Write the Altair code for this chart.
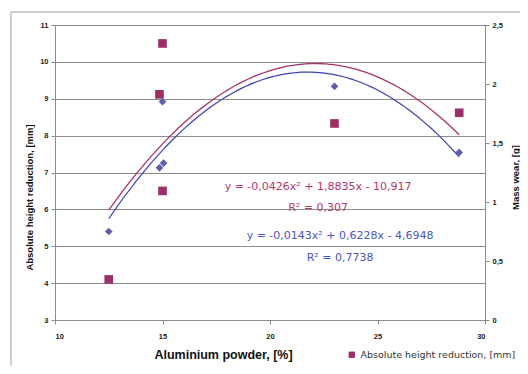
import altair as alt
import pandas as pd

# ---- data ----
al_height = [12.5, 15.0, 14.86, 15.0, 23.0, 28.8]
height_mm = [4.1, 10.5, 9.12, 6.5, 8.33, 8.62]
al_wear = [12.5, 15.0, 15.05, 14.86, 23.0, 28.8]
wear_g = [0.75, 1.85, 1.33, 1.29, 1.98, 1.42]
series_names = ["Absolute height reduction, [mm]", "Mass wear, [g]"]
x_ticks = [10, 15, 20, 25, 30]
left_ticks = [3, 4, 5, 6, 7, 8, 9, 10, 11]
right_ticks = [0, 0.5, 1, 1.5, 2, 2.5]
eq_red = ["y = -0,0426x² + 1,8835x - 10,917", "R² = 0,307"]
eq_blue = ["y = -0,0143x² + 0,6228x - 4,6948", "R² = 0,7738"]

RED = "#9B2F66"
RED_LINE = "#A8336A"
BLUE = "#5F5FA8"
BLUE_LINE = "#3A3FB4"
GRID = "#8C8C8C"
FONT = "Liberation Sans"

df_h = pd.DataFrame({"al": al_height, "val": height_mm, "series": series_names[0]})
df_w = pd.DataFrame({"al": al_wear, "val": wear_g, "series": series_names[1]})
dummy = pd.DataFrame({"d": [0]})

x_enc = alt.X(
    "al:Q",
    scale=alt.Scale(domain=[10, 30], nice=False, zero=False),
    axis=alt.Axis(
        values=x_ticks, title="Aluminium powder, [%]", grid=False,
        titleX=168, titleY=34, titleAlign="center", titleBaseline="middle",
        titleFontSize=12.5, titleFontWeight="bold", titleFont=FONT,
        labelFontSize=7.5, labelFontWeight="bold", labelFont=FONT, labelPadding=8,
    ),
)

left_axis = alt.Axis(
    values=left_ticks, title=series_names[0], grid=True, gridColor=GRID,
    titleX=-26, titleY=172, titleAlign="center", titleBaseline="middle",
    titleFontSize=9.5, titleFontWeight="bold",
    titleFont=FONT, labelFontSize=7.5, labelFontWeight="bold", labelFont=FONT,
    labelPadding=3,
)
right_axis = alt.Axis(
    orient="right", values=right_ticks, title=series_names[1], grid=False,
    titleX=30, titleY=152, titleAngle=270, titleAlign="center", titleBaseline="middle",
    titleFontSize=9.5, titleFontWeight="bold", titleFont=FONT, labelFontSize=7.5,
    labelFontWeight="bold", labelFont=FONT, labelPadding=3,
    labelExpr="replace(toString(datum.value), '.', ',')",
)

y_left = alt.Y("val:Q", scale=alt.Scale(domain=[3, 11], nice=False, zero=False), axis=left_axis)
y_right = alt.Y("val:Q", scale=alt.Scale(domain=[0, 2.5], nice=False, zero=False), axis=right_axis)

border = alt.Chart(dummy).mark_rect(fillOpacity=0, stroke="#A0A0A0", strokeWidth=1, clip=False).encode(
    x=alt.value(-44), x2=alt.value(480), y=alt.value(-13), y2=alt.value(360)
)

red_line = alt.Chart(df_h).transform_regression(
    "al", "val", method="poly", order=2
).mark_line(color=RED_LINE, strokeWidth=1.3).encode(x=x_enc, y=y_left)

red_pts = alt.Chart(df_h).mark_square(size=75, opacity=1).encode(
    x=x_enc, y=y_left,
    color=alt.Color(
        "series:N",
        scale=alt.Scale(domain=[series_names[0]], range=[RED]),
        legend=alt.Legend(
            orient="none", legendX=292, legendY=325, title=None,
            symbolType="square", symbolSize=40, labelFontSize=9.5,
            labelFont="DejaVu Sans", labelColor="#333333", padding=0,
        ),
    ),
)

blue_line = alt.Chart(df_w).transform_regression(
    "al", "val", method="poly", order=2
).mark_line(color=BLUE_LINE, strokeWidth=1.2).encode(x=x_enc, y=y_right)

blue_pts = alt.Chart(df_w).mark_point(shape="diamond", filled=True, size=60, opacity=1, color=BLUE).encode(
    x=x_enc, y=y_right
)

def label(txt, x, y, color):
    return alt.Chart(dummy).mark_text(
        font="DejaVu Sans", fontSize=11, color=color, align="center", baseline="middle"
    ).encode(x=alt.value(x), y=alt.value(y), text=alt.value(txt))

texts = alt.layer(
    label(eq_red[0], 263, 162, "#B0386E"),
    label(eq_red[1], 263, 183, "#B0386E"),
    label(eq_blue[0], 285, 211, "#4A55C0"),
    label(eq_blue[1], 285, 233, "#4A55C0"),
)

left_layer = alt.layer(red_line, red_pts)
right_layer = alt.layer(blue_line, blue_pts)

chart = alt.layer(border, left_layer, right_layer, texts).resolve_scale(
    y="independent"
).properties(
    width=430, height=295,
    autosize=alt.AutoSizeParams(type="none"),
    padding={"left": 47, "top": 17, "right": 35, "bottom": 46},
).configure_view(
    stroke=GRID, strokeWidth=1
).configure_axis(
    domainColor=GRID, tickColor=GRID, tickSize=4, labelColor="#222222",
    titleColor="#111111",
)

chart.save("out.html", embed_options={"renderer": "svg", "actions": False})
